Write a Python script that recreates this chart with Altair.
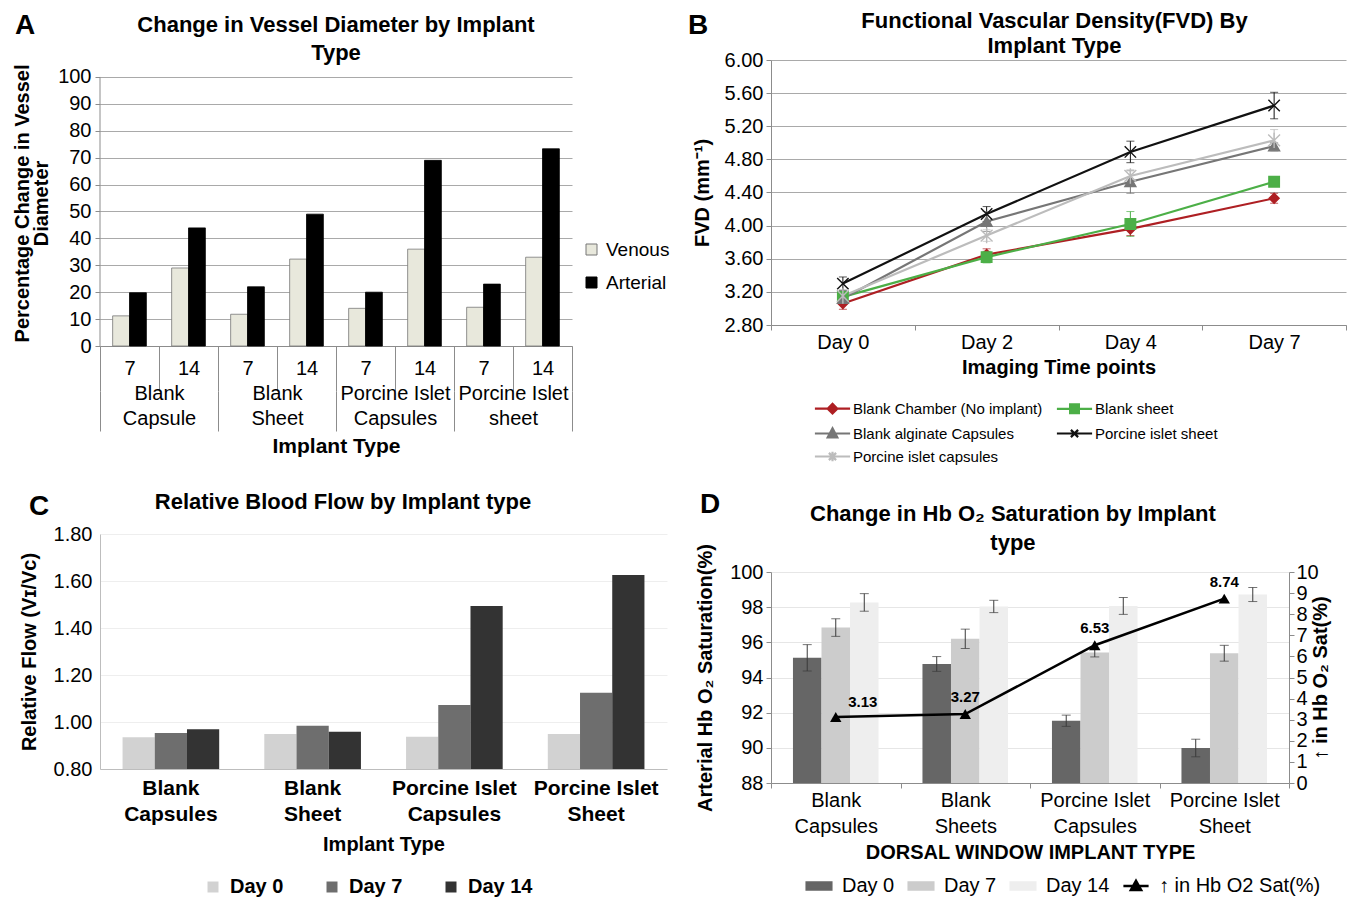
import altair as alt
import pandas as pd

FONT = "Liberation Sans"
GRAY = "#8c8c8c"
GRID = "#a9a9a9"

PANEL_LETTERS = ["A", "B", "C", "D"]

# ---------------- Panel A: vessel diameter ----------------
A_GROUPS = ["Blank|Capsule", "Blank|Sheet", "Porcine Islet|Capsules", "Porcine Islet|sheet"]
A_DAYS = ["7", "14"]
A_SERIES = ["Venous", "Arterial"]
A_VENOUS = [11.2, 29.0, 11.8, 32.3, 14.0, 36.0, 14.4, 33.0]
A_ARTERIAL = [19.8, 43.9, 22.0, 49.0, 20.0, 69.0, 23.0, 73.3]
A_YTICKS = [0, 10, 20, 30, 40, 50, 60, 70, 80, 90, 100]
A_YMAX_VIEW = 106.3   # plot area reaches a bit above the 100 gridline (room for the title row)
A_FILLS = ["#e8e8dc", "#000000"]
A_STROKES = ["#777777", "#000000"]

# ---------------- Panel B: FVD ----------------
B_DAYS = ["Day 0", "Day 2", "Day 4", "Day 7"]
B_SERIES = ["Blank Chamber (No implant)", "Blank sheet", "Blank alginate Capsules",
            "Porcine islet sheet", "Porcine islet capsules"]
B_BLANK_CHAMBER = [3.06, 3.65, 3.96, 4.33]
B_BLANK_SHEET = [3.14, 3.62, 4.02, 4.53]
B_BLANK_ALGINATE = [3.12, 4.05, 4.53, 4.96]
B_PORCINE_SHEET = [3.30, 4.14, 4.89, 5.45]
B_PORCINE_CAPS = [3.15, 3.88, 4.60, 5.03]
B_ERR_BLANK_CHAMBER = [0.07, 0.07, 0.08, 0.06]
B_ERR_BLANK_SHEET = [0.05, 0.07, 0.15, 0.04]
B_ERR_BLANK_ALGINATE = [0.05, 0.12, 0.14, 0.04]
B_ERR_PORCINE_SHEET = [0.08, 0.09, 0.13, 0.16]
B_ERR_PORCINE_CAPS = [0.05, 0.07, 0.06, 0.13]
B_YTICKS = [2.8, 3.2, 3.6, 4.0, 4.4, 4.8, 5.2, 5.6, 6.0]
B_COLORS = ["#ae1f23", "#4caf47", "#767676", "#111111", "#bcbcbc"]
B_MARKERS = ["diamond", "square", "triangle-up",
             "M-1,-1L1,1M1,-1L-1,1",
             "M-1,-1L1,1M1,-1L-1,1M0,-1.3L0,1.3"]
B_MARKER_SIZES = [100, 140, 120, 70, 80]
B_LEGEND_SHAPES = [
    "M-2.2,0L2.2,0M0,-0.6L0.6,0L0,0.6L-0.6,0Z",
    "M-2.2,0L2.2,0M-0.55,-0.55L0.55,-0.55L0.55,0.55L-0.55,0.55Z",
    "M-2.2,0L2.2,0M0,-0.65L0.6,0.5L-0.6,0.5Z",
    "M-2.2,0L2.2,0M-0.45,-0.45L0.45,0.45M0.45,-0.45L-0.45,0.45",
    "M-2.2,0L2.2,0M-0.45,-0.45L0.45,0.45M0.45,-0.45L-0.45,0.45M0,-0.6L0,0.6",
]
B_LEGEND_ORDER = [0, 2, 4, 1, 3]  # column-major: left column then right column

# ---------------- Panel C: relative blood flow ----------------
C_GROUPS = ["Blank|Capsules", "Blank|Sheet", "Porcine Islet|Capsules", "Porcine Islet|Sheet"]
C_DAYS = ["Day 0", "Day 7", "Day 14"]
C_DAY0 = [0.935, 0.949, 0.937, 0.949]
C_DAY7 = [0.953, 0.984, 1.072, 1.124]
C_DAY14 = [0.969, 0.959, 1.494, 1.626]
C_YTICKS = [0.8, 1.0, 1.2, 1.4, 1.6, 1.8]
C_COLORS = ["#d2d2d2", "#6e6e6e", "#333333"]

# ---------------- Panel D: Hb O2 saturation ----------------
D_GROUPS = ["Blank|Capsules", "Blank|Sheets", "Porcine Islet|Capsules", "Porcine Islet|Sheet"]
D_DAYS = ["Day 0", "Day 7", "Day 14"]
D_DAY0 = [95.12, 94.77, 91.54, 89.99]
D_DAY7 = [96.84, 96.20, 95.42, 95.38]
D_DAY14 = [98.27, 98.04, 98.07, 98.72]
D_ERR_DAY0 = [0.75, 0.42, 0.32, 0.50]
D_ERR_DAY7 = [0.50, 0.55, 0.25, 0.45]
D_ERR_DAY14 = [0.50, 0.35, 0.48, 0.40]
D_INCREASE = [3.13, 3.27, 6.53, 8.74]
D_YTICKS = [88, 90, 92, 94, 96, 98, 100]
D_Y2TICKS = [0, 1, 2, 3, 4, 5, 6, 7, 8, 9, 10]
D_COLORS = ["#666666", "#cccccc", "#eeeeee"]
D_LEGEND_ITEMS = ["Day 0", "Day 7", "Day 14", "\u2191 in Hb O2 Sat(%)"]
D_LEGEND_COLORS = ["#666666", "#cccccc", "#eeeeee", "#000000"]
D_LEGEND_SHAPES = [
    "M-2.05,-0.6L2.05,-0.6L2.05,0.6L-2.05,0.6Z",
    "M-2.05,-0.6L2.05,-0.6L2.05,0.6L-2.05,0.6Z",
    "M-2.05,-0.6L2.05,-0.6L2.05,0.6L-2.05,0.6Z",
    "M-2.1,0L2.1,0M0,-0.85L0.85,0.65L-0.85,0.65Z",
]

ALL_INDEPENDENT = dict(x="independent", y="independent", xOffset="independent",
                       color="independent", fill="independent", stroke="independent",
                       shape="independent", size="independent")


def letter(ch, x, y):
    return alt.Chart(pd.DataFrame({"letter": [ch]})).mark_text(
        font=FONT, fontSize=28, fontWeight="bold", align="center", baseline="top", color="#000"
    ).encode(text="letter:N", x=alt.value(x), y=alt.value(y))


# ======================= Panel A =======================
rowsA, keysA = [], []
for gi, g in enumerate(A_GROUPS):
    for di, d in enumerate(A_DAYS):
        k = g + "#" + d
        keysA.append(k)
        i = gi * len(A_DAYS) + di
        for s, vals in zip(A_SERIES, [A_VENOUS, A_ARTERIAL]):
            rowsA.append({"group": g, "day": d, "key": k, "series": s, "value": vals[i]})
dfA = pd.DataFrame(rowsA)

yA_axis = alt.Axis(values=A_YTICKS, title=["Percentage Change in Vessel", "Diameter"],
                   titleFontSize=20, titleFontWeight="bold", titleLineHeight=19, titlePadding=6,
                   labelFontSize=20, labelPadding=4, tickSize=5, tickColor=GRAY,
                   domain=False, gridColor=GRID)
yA_scale = alt.Scale(domain=[0, A_YMAX_VIEW], nice=False)

legA = alt.Legend(title=None, orient="none", legendX=482, legendY=180, labelFontSize=19,
                  symbolType="square", symbolSize=121, symbolStrokeWidth=1, labelOffset=5,
                  rowPadding=13)

barsA = alt.Chart(dfA).mark_bar(strokeWidth=0.8).encode(
    x=alt.X("key:N", sort=keysA, scale=alt.Scale(paddingInner=0, paddingOuter=0),
            axis=alt.Axis(title=None, labelExpr="split(datum.label, '#')[1]", labelAngle=0,
                          labelFontSize=20, labelPadding=-33, tickBand="extent", tickSize=45,
                          tickColor=GRAY, domainColor=GRAY, grid=False, labelOverlap=False)),
    xOffset=alt.XOffset("series:N", sort=A_SERIES,
                        scale=alt.Scale(domain=A_SERIES, paddingInner=0, paddingOuter=0.75)),
    y=alt.Y("value:Q", scale=yA_scale, axis=yA_axis),
    color=alt.Color("series:N", scale=alt.Scale(domain=A_SERIES, range=A_FILLS), legend=legA),
    stroke=alt.Stroke("series:N", scale=alt.Scale(domain=A_SERIES, range=A_STROKES), legend=legA),
)

# vertical axis line of panel A, spanning the 0-100 value range
axisLineA = alt.Chart(pd.DataFrame({"lo": [A_YTICKS[0]], "hi": [A_YTICKS[-1]]})).mark_rule(
    color=GRAY, strokeWidth=1).encode(
    x=alt.value(0), y=alt.Y("lo:Q", scale=yA_scale, axis=yA_axis), y2="hi:Q")

groupAxisA = alt.Chart(dfA).mark_point(opacity=0).encode(
    x=alt.X("group:N", sort=A_GROUPS, scale=alt.Scale(paddingInner=0, paddingOuter=0),
            axis=alt.Axis(orient="bottom", offset=45, title="Implant Type", titleFontSize=21,
                          titleFontWeight="bold", titlePadding=4,
                          labelExpr="split(datum.label, '|')", labelAngle=0, labelFontSize=20,
                          labelLineHeight=25, labelPadding=-48, tickBand="extent", tickSize=40,
                          tickColor=GRAY, domain=False, grid=False, labelOverlap=False)),
    y=alt.Y("value:Q", scale=yA_scale, axis=yA_axis),
)

panelA = alt.layer(barsA, axisLineA, groupAxisA, letter(PANEL_LETTERS[0], -75, -48)).resolve_scale(
    x="independent"
).properties(
    width=472, height=286,
    title=alt.TitleParams(["Change in Vessel Diameter by Implant", "Type"], fontSize=22,
                          fontWeight="bold", lineHeight=28, frame="group", anchor="middle",
                          offset=0, dy=53),
)

# ======================= Panel B =======================
b_vals = [B_BLANK_CHAMBER, B_BLANK_SHEET, B_BLANK_ALGINATE, B_PORCINE_SHEET, B_PORCINE_CAPS]
b_errs = [B_ERR_BLANK_CHAMBER, B_ERR_BLANK_SHEET, B_ERR_BLANK_ALGINATE, B_ERR_PORCINE_SHEET,
          B_ERR_PORCINE_CAPS]
rowsB, capsB_rows = [], []
for s, vals, errs in zip(B_SERIES, b_vals, b_errs):
    for d, v, e in zip(B_DAYS, vals, errs):
        rowsB.append({"series": s, "day": d, "value": v, "lo": v - e, "hi": v + e})
        capsB_rows.append({"series": s, "day": d, "cap": v - e})
        capsB_rows.append({"series": s, "day": d, "cap": v + e})
dfB = pd.DataFrame(rowsB)
dfBcaps = pd.DataFrame(capsB_rows)

xB = alt.X("day:N", sort=B_DAYS, scale=alt.Scale(paddingInner=0, paddingOuter=0),
           axis=alt.Axis(title="Imaging Time points", titleFontSize=20, titleFontWeight="bold",
                         titlePadding=5, labelAngle=0, labelFontSize=20, labelPadding=2,
                         tickBand="extent", tickSize=5, tickColor=GRAY, domainColor=GRAY,
                         grid=False))
yB_axis = alt.Axis(values=B_YTICKS, format=".2f", title="FVD (mm\u207b\u00b9)", titleFontSize=20,
                   titleFontWeight="bold", titlePadding=12, labelFontSize=20, labelPadding=3,
                   tickSize=5, tickColor=GRAY, domainColor=GRAY, gridColor=GRID)


def yB(field):
    return alt.Y(field, scale=alt.Scale(domain=[2.8, 6.0], nice=False, zero=False), axis=yB_axis)


def colB(channel):
    return channel("series:N", scale=alt.Scale(domain=B_SERIES, range=B_COLORS), legend=None)


linesB = alt.Chart(dfB).mark_line(strokeWidth=2.2).encode(x=xB, y=yB("value:Q"), color=colB(alt.Color))
errB = alt.Chart(dfB).mark_rule(strokeWidth=1).encode(x=xB, y=yB("lo:Q"), y2="hi:Q", color=colB(alt.Color))
capB = alt.Chart(dfBcaps).mark_tick(thickness=1, size=8).encode(x=xB, y=yB("cap:Q"), color=colB(alt.Color))
ptsB = alt.Chart(dfB).mark_point(filled=True, opacity=1, strokeWidth=1.4).encode(
    x=xB, y=yB("value:Q"), fill=colB(alt.Fill), stroke=colB(alt.Stroke),
    shape=alt.Shape("series:N", scale=alt.Scale(domain=B_SERIES, range=B_MARKERS), legend=None),
    size=alt.Size("series:N", scale=alt.Scale(domain=B_SERIES, range=B_MARKER_SIZES), legend=None),
)
leg_dom = [B_SERIES[i] for i in B_LEGEND_ORDER]
leg_col = [B_COLORS[i] for i in B_LEGEND_ORDER]
leg_shp = [B_LEGEND_SHAPES[i] for i in B_LEGEND_ORDER]
legB = alt.Legend(title=None, orient="none", legendX=52, legendY=339, columns=2, symbolSize=256,
                  symbolStrokeWidth=2.2, labelFontSize=15, labelOffset=11, rowPadding=5,
                  columnPadding=9, symbolOpacity=1, labelLimit=400)
legendB = alt.Chart(dfB).transform_filter("false").mark_point(filled=True, opacity=1).encode(
    fill=alt.Fill("series:N", scale=alt.Scale(domain=leg_dom, range=leg_col), legend=legB),
    stroke=alt.Stroke("series:N", scale=alt.Scale(domain=leg_dom, range=leg_col), legend=legB),
    shape=alt.Shape("series:N", scale=alt.Scale(domain=leg_dom, range=leg_shp), legend=legB),
)

panelB = alt.layer(linesB, errB, capB, ptsB, legendB, letter(PANEL_LETTERS[1], -73, -48)).resolve_scale(
    color="independent", fill="independent", stroke="independent", shape="independent",
    size="independent"
).properties(
    width=575, height=265,
    title=alt.TitleParams(["Functional Vascular Density(FVD) By", "Implant Type"], fontSize=22,
                          fontWeight="bold", lineHeight=25, frame="group", anchor="middle",
                          offset=0, dx=-4, dy=46),
)

# ======================= Panel C =======================
rowsC = []
for gi, g in enumerate(C_GROUPS):
    for d, vals in zip(C_DAYS, [C_DAY0, C_DAY7, C_DAY14]):
        rowsC.append({"group": g, "day": d, "value": vals[gi]})
dfC = pd.DataFrame(rowsC)

barsC = alt.Chart(dfC).mark_bar().encode(
    x=alt.X("group:N", sort=C_GROUPS, scale=alt.Scale(paddingInner=0, paddingOuter=0),
            axis=alt.Axis(title="Implant Type", titleFontSize=20, titleFontWeight="bold",
                          titlePadding=10, labelExpr="split(datum.label, '|')", labelAngle=0,
                          labelFontSize=21, labelFontWeight="bold", labelLineHeight=26,
                          labelPadding=8, ticks=False, domainColor="#bdbdbd", grid=False,
                          labelOverlap=False)),
    xOffset=alt.XOffset("day:N", sort=C_DAYS,
                        scale=alt.Scale(domain=C_DAYS, paddingInner=0, paddingOuter=0.7)),
    y=alt.Y("value:Q", scale=alt.Scale(domain=[0.8, 1.8], nice=False, zero=False),
            axis=alt.Axis(values=C_YTICKS, format=".2f", title="Relative Flow (V\u026a/V\u1d04)",
                          titleFontSize=20, titleFontWeight="bold", titlePadding=14,
                          labelFontSize=20, labelPadding=8, ticks=False, domainColor="#bdbdbd",
                          gridColor="#eeeeee")),
    y2=alt.datum(0.8),
    color=alt.Color("day:N", sort=C_DAYS, scale=alt.Scale(domain=C_DAYS, range=C_COLORS),
                    legend=alt.Legend(title=None, orient="none", legendX=103, legendY=343,
                                      direction="horizontal", columns=3, symbolType="square",
                                      symbolSize=121, labelFontSize=20, labelFontWeight="bold",
                                      labelOffset=7, columnPadding=38)),
)

panelC = alt.layer(barsC, letter(PANEL_LETTERS[2], -61, -41)).properties(
    width=567, height=235,
    title=alt.TitleParams("Relative Blood Flow by Implant type", fontSize=22, fontWeight="bold",
                          frame="bounds", anchor="middle", offset=0, dy=21),
)

# ======================= Panel D =======================
rowsD, capsD_rows = [], []
for gi, g in enumerate(D_GROUPS):
    for d, vals, errs in zip(D_DAYS, [D_DAY0, D_DAY7, D_DAY14], [D_ERR_DAY0, D_ERR_DAY7, D_ERR_DAY14]):
        v, e = vals[gi], errs[gi]
        rowsD.append({"group": g, "day": d, "value": v, "lo": v - e, "hi": v + e})
        capsD_rows.append({"group": g, "day": d, "cap": v - e})
        capsD_rows.append({"group": g, "day": d, "cap": v + e})
dfD = pd.DataFrame(rowsD)
dfDcaps = pd.DataFrame(capsD_rows)
dfInc = pd.DataFrame({"group": D_GROUPS, "inc": D_INCREASE, "idx": list(range(len(D_GROUPS)))})

xD = alt.X("group:N", sort=D_GROUPS, scale=alt.Scale(paddingInner=0, paddingOuter=0),
           axis=alt.Axis(title="DORSAL WINDOW IMPLANT TYPE", titleFontSize=20,
                         titleFontWeight="bold", titlePadding=6,
                         labelExpr="split(datum.label, '|')", labelAngle=0, labelFontSize=20,
                         labelLineHeight=26, labelPadding=2, tickBand="extent", tickSize=5,
                         tickColor=GRAY, domainColor=GRAY, grid=False, labelOverlap=False))
xoffD = alt.XOffset("day:N", sort=D_DAYS,
                    scale=alt.Scale(domain=D_DAYS, paddingInner=0, paddingOuter=0.77))
yD_axis = alt.Axis(values=D_YTICKS, title="Arterial Hb O\u2082 Saturation(%)", titleFontSize=20,
                   titleFontWeight="bold", titlePadding=14, labelFontSize=20, labelPadding=3,
                   tickSize=5, tickColor=GRAY, domainColor=GRAY, gridColor="#e6e6e6")


def yD(field):
    return alt.Y(field, scale=alt.Scale(domain=[88, 100], nice=False, zero=False), axis=yD_axis)


yR_axis = alt.Axis(orient="right", values=D_Y2TICKS, format="d",
                   title="\u2191 in Hb O\u2082 Sat(%)", titleAngle=270, titleFontSize=20,
                   titleFontWeight="bold", titlePadding=12, labelFontSize=20, labelPadding=2,
                   tickSize=5, tickColor=GRAY, domainColor=GRAY, grid=False)


def yR():
    return alt.Y("inc:Q", scale=alt.Scale(domain=[0, 10], nice=False), axis=yR_axis)


barsD = alt.Chart(dfD).mark_bar().encode(
    x=xD, xOffset=xoffD, y=yD("value:Q"), y2=alt.datum(88),
    color=alt.Color("day:N", scale=alt.Scale(domain=D_DAYS, range=D_COLORS), legend=None),
)
errD = alt.Chart(dfD).mark_rule(color="#3a3a3a", strokeWidth=1).encode(
    x=xD, xOffset=xoffD, y=yD("lo:Q"), y2="hi:Q")
capD = alt.Chart(dfDcaps).mark_tick(color="#3a3a3a", thickness=1, size=9).encode(
    x=xD, xOffset=xoffD, y=yD("cap:Q"))
leftD = alt.layer(barsD, errD, capD)

lineD = alt.Chart(dfInc).mark_line(color="#000000", strokeWidth=2.5).encode(x=xD, y=yR())
ptsD = alt.Chart(dfInc).mark_point(shape="triangle-up", filled=True, color="#000000", size=130,
                                   opacity=1).encode(x=xD, y=yR())
lblD1 = alt.Chart(dfInc).transform_filter("datum.idx == 0").mark_text(
    dx=27, dy=-15, fontSize=15, fontWeight="bold", color="#000").encode(
    x=xD, y=yR(), text=alt.Text("inc:Q", format=".2f"))
lblD2 = alt.Chart(dfInc).transform_filter("datum.idx > 0").mark_text(
    dy=-17, fontSize=15, fontWeight="bold", color="#000").encode(
    x=xD, y=yR(), text=alt.Text("inc:Q", format=".2f"))
rightD = alt.layer(lineD, ptsD, lblD1, lblD2)

legDp = alt.Legend(title=None, orient="none", legendX=38, legendY=304, direction="horizontal",
                   columns=4, symbolSize=144, symbolStrokeWidth=2.5, labelFontSize=20,
                   labelOffset=13, columnPadding=8, symbolOpacity=1, labelLimit=400)
legendD = alt.Chart(pd.DataFrame({"item": D_LEGEND_ITEMS})).transform_filter("false").mark_point(
    filled=True, opacity=1).encode(
    fill=alt.Fill("item:N", scale=alt.Scale(domain=D_LEGEND_ITEMS, range=D_LEGEND_COLORS), legend=legDp),
    stroke=alt.Stroke("item:N", scale=alt.Scale(domain=D_LEGEND_ITEMS, range=D_LEGEND_COLORS), legend=legDp),
    shape=alt.Shape("item:N", scale=alt.Scale(domain=D_LEGEND_ITEMS, range=D_LEGEND_SHAPES), legend=legDp),
)

panelD = alt.layer(leftD, rightD, legendD, letter(PANEL_LETTERS[3], -61, -81)).resolve_scale(
    y="independent", color="independent", fill="independent", stroke="independent",
    shape="independent"
).properties(
    width=518, height=211,
    title=alt.TitleParams(["Change in Hb O\u2082 Saturation by Implant", "type"], fontSize=22,
                          fontWeight="bold", lineHeight=29, frame="bounds", anchor="middle",
                          offset=0, dy=64),
)

chart = alt.concat(
    panelA, panelB, panelC, panelD, columns=2,
    spacing={"row": 25, "column": 17},
    align={"row": "none", "column": "each"},
).resolve_scale(**ALL_INDEPENDENT).properties(
    padding={"left": 4, "top": 2, "right": 0, "bottom": 0}
).configure(font=FONT).configure_axis(
    labelFont=FONT, titleFont=FONT, labelColor="#000", titleColor="#000"
).configure_legend(labelFont=FONT, labelColor="#000").configure_title(
    font=FONT, color="#000"
).configure_text(font=FONT).configure_view(stroke=None)

chart.save("out.html", embed_options={"renderer": "svg", "actions": False})
